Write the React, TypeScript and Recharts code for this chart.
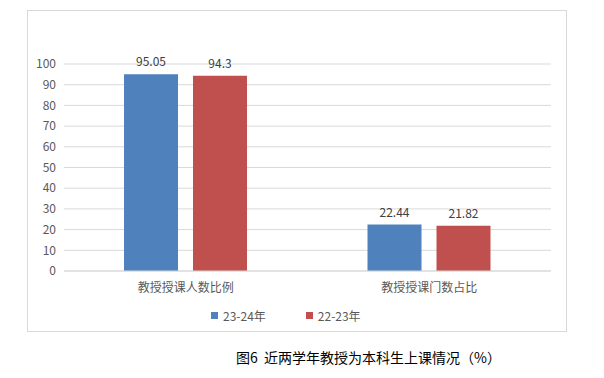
import { BarChart, Bar, XAxis, YAxis, CartesianGrid, LabelList } from 'recharts';

const categories = ['教授授课人数比例', '教授授课门数占比'];
const year2324 = [95.05, 22.44];
const year2223 = [94.3, 21.82];
const yTicks = [0, 10, 20, 30, 40, 50, 60, 70, 80, 90, 100];
const seriesNames = ['23-24年', '22-23年'];
const seriesColors = ['#4f81bd', '#c0504d'];

const data = categories.map((name, i) => ({
  name,
  a: year2324[i],
  b: year2223[i],
}));

const font = '"Microsoft YaHei", "Noto Sans CJK SC", sans-serif';

export default function App() {
  return (
    <div style={{ position: 'absolute', left: 0, top: 0, width: 604, height: 378, background: '#fff', fontFamily: font }}>
      <div
        style={{
          position: 'absolute',
          left: 27,
          top: 10,
          width: 538,
          height: 320,
          border: '1px solid #d9d9d9',
        }}
      >
        <BarChart
          width={538}
          height={320}
          data={data}
          margin={{ top: 53, right: 15, bottom: 30, left: 0 }}
          barGap={15}
          barCategoryGap={60}
        >
          <CartesianGrid vertical={false} stroke="#d9d9d9" />
          <XAxis
            dataKey="name"
            height={30}
            axisLine={{ stroke: '#d9d9d9' }}
            tickLine={false}
            tick={{ fill: '#595959', fontSize: 12, fontFamily: font }}
            tickMargin={6}
          />
          <YAxis
            domain={[0, 100]}
            ticks={yTicks}
            interval={0}
            axisLine={false}
            tickLine={false}
            width={36}
            tick={{ fill: '#595959', fontSize: 12, fontFamily: font }}
          />
          <Bar dataKey="a" name={seriesNames[0]} fill={seriesColors[0]} isAnimationActive={false}>
            <LabelList dataKey="a" position="top" offset={8} fill="#404040" fontSize={12} fontFamily={font} />
          </Bar>
          <Bar dataKey="b" name={seriesNames[1]} fill={seriesColors[1]} isAnimationActive={false}>
            <LabelList dataKey="b" position="top" offset={8} fill="#404040" fontSize={12} fontFamily={font} />
          </Bar>
        </BarChart>
        <div
          style={{
            position: 'absolute',
            top: 296,
            left: 183,
            display: 'flex',
            gap: 40,
            fontSize: 12,
            color: '#595959',
          }}
        >
          {seriesNames.map((n, i) => (
            <span key={n} style={{ display: 'flex', alignItems: 'center' }}>
              <span style={{ width: 7, height: 7, background: seriesColors[i], marginRight: 5, display: 'inline-block' }} />
              {n}
            </span>
          ))}
        </div>
      </div>
      <div
        style={{
          position: 'absolute',
          left: 236,
          top: 347,
          fontSize: 14,
          color: '#000',
          whiteSpace: 'pre',
          fontFamily: font,
        }}
      >
        {'图6  近两学年教授为本科生上课情况（%）'}
      </div>
    </div>
  );
}
